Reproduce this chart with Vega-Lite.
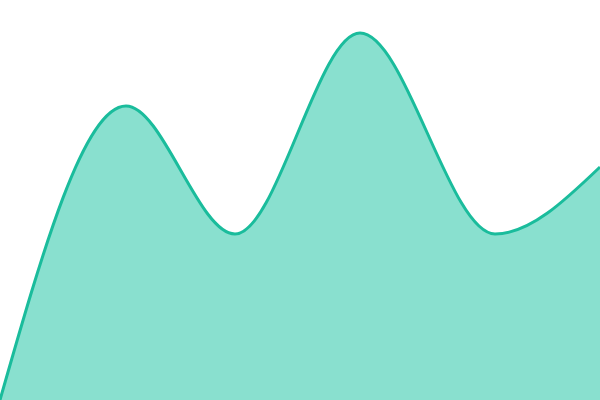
{
  "$schema": "https://vega.github.io/schema/vega-lite/v6.json",
  "autosize": {"type": "fit", "contains": "padding"},
  "width": 600,
  "height": 400,
  "padding": 0,
  "background": "white",
  "config": {"view": {"stroke": null}},
  "data": {"values": [
    {"x": 0, "y": 0},
    {"x": 126, "y": 294},
    {"x": 235, "y": 166},
    {"x": 360, "y": 367},
    {"x": 495, "y": 166},
    {"x": 600, "y": 233}
  ]},
  "encoding": {
    "x": {"field": "x", "type": "quantitative", "scale": {"domain": [0, 600], "nice": false, "zero": false}, "axis": null},
    "y": {"field": "y", "type": "quantitative", "scale": {"domain": [0, 400], "nice": false}, "axis": null}
  },
  "layer": [
    {"mark": {"type": "area", "interpolate": "monotone", "color": "#89e0cf", "opacity": 1, "clip": true}},
    {"mark": {"type": "line", "interpolate": "monotone", "color": "#1abc9c", "strokeWidth": 3, "clip": true}}
  ]
}
